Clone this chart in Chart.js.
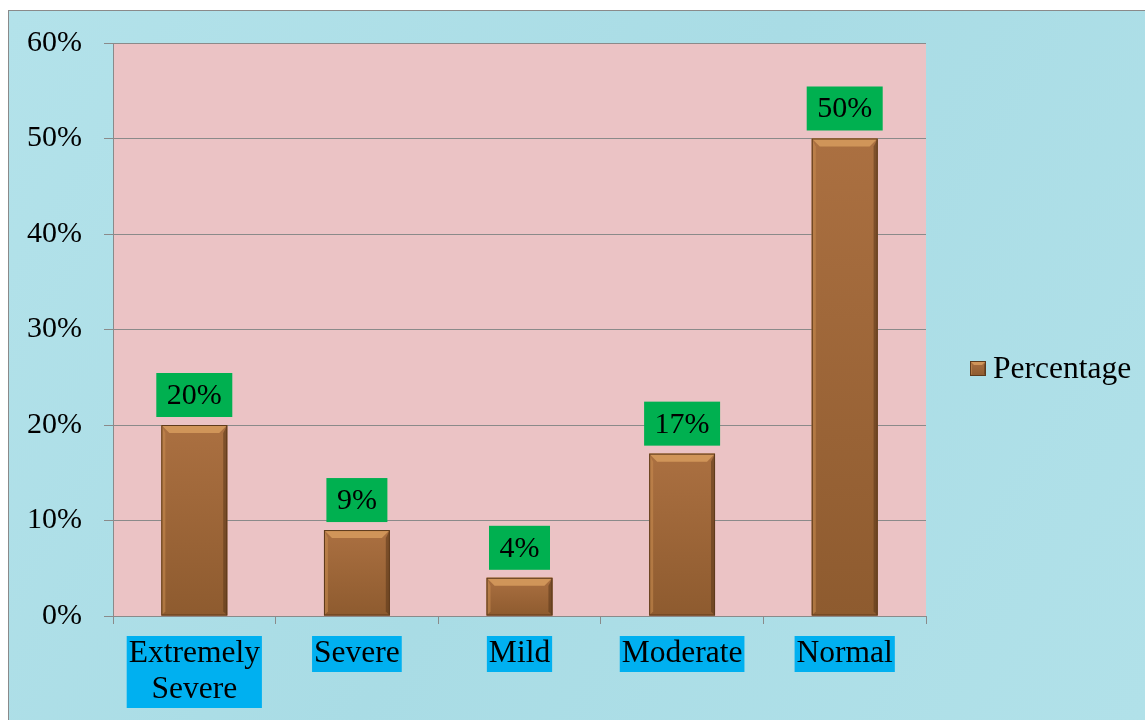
<!DOCTYPE html>
<html>
<head>
<meta charset="utf-8">
<script src="https://cdn.jsdelivr.net/npm/chart.js@4/dist/chart.umd.min.js"></script>
<style>
  html, body { margin: 0; padding: 0; background: #ffffff; }
  #wrap { position: absolute; left: 8px; top: 10px; width: 1137px; height: 710px;
          border-left: 1px solid #8a8a8a; border-top: 1px solid #8a8a8a; box-sizing: border-box; }
  canvas { display: block; }
</style>
</head>
<body>
<div id="wrap"><canvas id="c" width="1136" height="709"></canvas></div>
<script>
const categories = [['Extremely', 'Severe'], 'Severe', 'Mild', 'Moderate', 'Normal'];
const seriesName = 'Percentage';
const percentages = [20, 9, 4, 17, 50];
const yTicks = [0, 10, 20, 30, 40, 50, 60];

const FONT = "'Liberation Serif', 'Times New Roman', serif";
const BAR = '#a06838';
const XFONT = 31.5;
const XLINE = 36;

const backgroundPlugin = {
  id: 'bg',
  beforeDraw(chart) {
    const { ctx, width, height, chartArea: a } = chart;
    ctx.save();
    const g = ctx.createLinearGradient(0, 0, width, height);
    g.addColorStop(0, '#b3e2ea');
    g.addColorStop(0.5, '#a9dce5');
    g.addColorStop(1, '#b1e1e9');
    ctx.fillStyle = g;
    ctx.fillRect(0, 0, width, height);
    ctx.fillStyle = '#ebc3c5';
    ctx.fillRect(a.left, a.top, a.right - a.left, a.bottom - a.top);
    const xs = chart.scales.x;
    ctx.font = XFONT + 'px ' + FONT;
    ctx.fillStyle = '#00b0f0';
    chart.data.labels.forEach((lab, i) => {
      const lines = Array.isArray(lab) ? lab : [lab];
      const w = Math.max(...lines.map(l => ctx.measureText(l).width)) + 4;
      const h = lines.length * XLINE;
      const cx = xs.getPixelForTick(i);
      ctx.fillRect(cx - w / 2, xs.top + 20, w, h);
    });
    ctx.restore();
  }
};

function bevelRect(ctx, x0, y0, w, h, b) {
  const x1 = x0 + w, y1 = y0 + h;
  b = Math.min(b, w / 2, h / 2);
  const body = ctx.createLinearGradient(0, y0, 0, y1);
  body.addColorStop(0, '#ab7041');
  body.addColorStop(1, '#8e5b2f');
  ctx.fillStyle = body;
  ctx.fillRect(x0, y0, w, h);
  ctx.fillStyle = '#d09559';
  ctx.beginPath(); ctx.moveTo(x0, y0); ctx.lineTo(x1, y0); ctx.lineTo(x1 - b, y0 + b); ctx.lineTo(x0 + b, y0 + b); ctx.closePath(); ctx.fill();
  ctx.fillStyle = 'rgba(200,140,80,0.55)';
  ctx.beginPath(); ctx.moveTo(x0, y0); ctx.lineTo(x0 + b * 0.5, y0 + b); ctx.lineTo(x0 + b * 0.5, y1 - b * 0.5); ctx.lineTo(x0, y1); ctx.closePath(); ctx.fill();
  ctx.fillStyle = 'rgba(90,55,25,0.55)';
  ctx.beginPath(); ctx.moveTo(x1, y0); ctx.lineTo(x1 - b * 0.5, y0 + b); ctx.lineTo(x1 - b * 0.5, y1 - b * 0.5); ctx.lineTo(x1, y1); ctx.closePath(); ctx.fill();
  ctx.strokeStyle = '#5e3b1c';
  ctx.lineWidth = 1;
  ctx.strokeRect(x0 + 0.5, y0 + 0.5, w - 1, h - 1);
}

const barStylePlugin = {
  id: 'barStyle',
  afterDatasetsDraw(chart) {
    const { ctx } = chart;
    const meta = chart.getDatasetMeta(0);
    ctx.save();
    meta.data.forEach((bar) => {
      const p = bar.getProps(['x', 'y', 'base', 'width'], true);
      bevelRect(ctx, p.x - p.width / 2, p.y, p.width, p.base - p.y, 8);
    });
    ctx.font = '30px ' + FONT;
    ctx.textAlign = 'center';
    ctx.textBaseline = 'middle';
    meta.data.forEach((bar, i) => {
      const p = bar.getProps(['x', 'y'], true);
      const txt = chart.data.datasets[0].data[i] + '%';
      const tw = ctx.measureText(txt).width;
      const w = tw + 21, h = 44;
      const bottom = p.y - 8;
      ctx.fillStyle = '#00b050';
      ctx.fillRect(p.x - w / 2, bottom - h, w, h);
      ctx.fillStyle = '#000000';
      ctx.fillText(txt, p.x, bottom - h / 2 + 1);
    });
    ctx.restore();
  }
};

const legendPlugin = {
  id: 'manualLegend',
  afterDraw(chart) {
    const { ctx } = chart;
    const ds = chart.data.datasets[0];
    const a = chart.chartArea;
    const x = a.right + 44, cy = 357.5;
    ctx.save();
    bevelRect(ctx, x, cy - 7.5, 16, 15, 4);
    ctx.font = '31.5px ' + FONT;
    ctx.fillStyle = '#000000';
    ctx.textAlign = 'left';
    ctx.textBaseline = 'middle';
    ctx.fillText(ds.label, x + 23, cy + 1);
    ctx.restore();
  }
};

new Chart(document.getElementById('c'), {
  type: 'bar',
  data: {
    labels: categories,
    datasets: [{
      label: seriesName,
      data: percentages,
      backgroundColor: BAR,
      borderWidth: 0,
      barPercentage: 0.5,
      categoryPercentage: 0.81
    }]
  },
  options: {
    responsive: false,
    animation: false,
    devicePixelRatio: 1,
    layout: { padding: { left: 0, top: 32, right: 219, bottom: 0 } },
    plugins: { legend: { display: false }, tooltip: { enabled: false } },
    scales: {
      x: {
        offset: true,
        grid: { drawOnChartArea: false, drawTicks: true, tickLength: 8, color: '#8a8a8a', offset: true },
        border: { display: true, color: '#8a8a8a', width: 1 },
        ticks: {
          color: '#000000',
          font: { family: FONT, size: XFONT, lineHeight: XLINE / XFONT },
          padding: 12,
          maxRotation: 0,
          autoSkip: false
        },
        afterFit(scale) { scale.height = 104; }
      },
      y: {
        min: 0, max: 60,
        afterBuildTicks(scale) { scale.ticks = yTicks.map(v => ({ value: v })); },
        grid: { color: '#8a8a8a', tickLength: 9, drawTicks: true },
        border: { display: true, color: '#8a8a8a', width: 1 },
        ticks: {
          color: '#000000',
          font: { family: FONT, size: 30 },
          padding: 22,
          callback: v => v + '%'
        },
        afterFit(scale) { scale.width = 104; scale.paddingTop = 0; scale.paddingBottom = 0; }
      }
    }
  },
  plugins: [backgroundPlugin, barStylePlugin, legendPlugin]
});
</script>
</body>
</html>
